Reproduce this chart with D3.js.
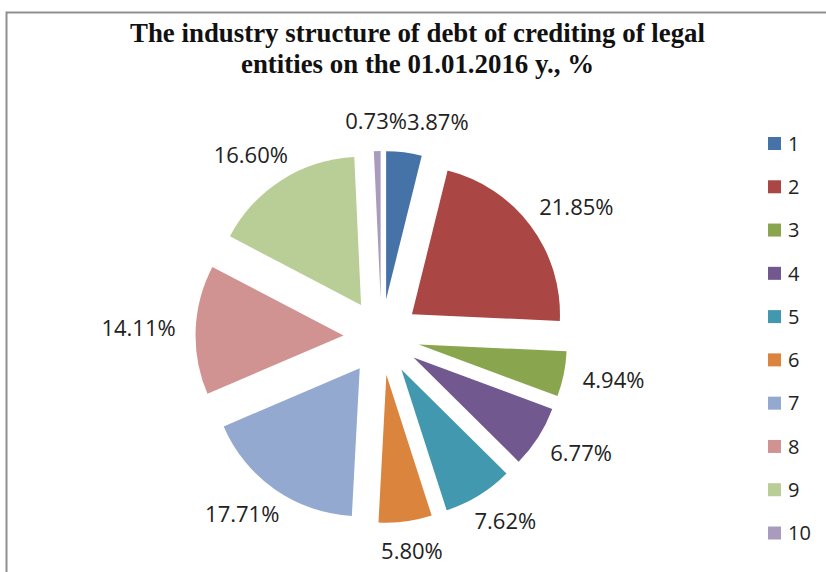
<!DOCTYPE html>
<html>
<head>
<meta charset="utf-8">
<script src="https://cdn.jsdelivr.net/npm/d3@7"></script>
<style>
  html, body { margin: 0; padding: 0; background: #fff; }
  svg { display: block; }
</style>
</head>
<body>
<svg id="chart" width="826" height="572"></svg>
<script>
// Industry shares of legal-entity credit debt, 01.01.2016 (%)
const categories = ["1", "2", "3", "4", "5", "6", "7", "8", "9", "10"];
const shares = [3.87, 21.85, 4.94, 6.77, 7.62, 5.80, 17.71, 14.11, 16.60, 0.73];
const sliceColors = ["#4572A7", "#AA4643", "#89A54E", "#71588F", "#4198AF",
                     "#DB843D", "#93A9CF", "#D19392", "#B9CD96", "#A99BBD"];
const titleLines = ["The industry structure of debt of crediting of legal",
                    "entities on the 01.01.2016 y., %"];

const W = 826, H = 572;
const svg = d3.select("#chart");

// outer frame
svg.append("rect")
  .attr("x", 6.5).attr("y", 12.5)
  .attr("width", W + 20).attr("height", H + 20)
  .attr("fill", "#fff")
  .attr("stroke", "#8f8f8f").attr("stroke-width", 2);

// title
const titleWidths = [575, 353];
svg.append("g").selectAll("text")
  .data(titleLines)
  .join("text")
    .attr("x", 417.5)
    .attr("y", (d, i) => 41.7 + i * 31.6)
    .attr("text-anchor", "middle")
    .attr("font-family", "'Liberation Serif', 'Times New Roman', serif")
    .attr("font-weight", "bold")
    .attr("font-size", 28)
    .attr("fill", "#111")
    .attr("textLength", (d, i) => titleWidths[i])
    .attr("lengthAdjust", "spacingAndGlyphs")
    .text(d => d);

// pie geometry
const cx = 381.5, cy = 337, radius = 148, explode = 38, labelGap = 20;
const pie = d3.pie().sort(null).value(d => d);
const arc = d3.arc().innerRadius(0).outerRadius(radius);
const arcs = pie(shares);
const mid = a => (a.startAngle + a.endAngle) / 2;
const unit = a => [Math.sin(mid(a)), -Math.cos(mid(a))];

const pieG = svg.append("g").attr("transform", `translate(${cx},${cy})`);
pieG.selectAll("path")
  .data(arcs)
  .join("path")
    .attr("transform", d => {
      const [ux, uy] = unit(d);
      return `translate(${ux * explode},${uy * explode})`;
    })
    .attr("d", arc)
    .attr("fill", (d, i) => sliceColors[i]);

// value labels, outside end of each exploded slice
const fmt = v => v.toFixed(2) + "%";
const labelG = svg.append("g");
const labels = labelG.selectAll("text")
  .data(arcs)
  .join("text")
    .attr("font-family", "'Open Sans', 'Noto Sans', sans-serif")
    .attr("font-size", 22)
    .attr("fill", "#222")
    .attr("text-anchor", "middle")
    .attr("dy", "0.35em")
    .text(d => fmt(d.data));

const boxes = [];
labels.each(function(d) {
  const w = this.getComputedTextLength();
  const h = 20;
  const [ux, uy] = unit(d);
  const R = radius + labelGap;
  const x = cx + ux * (explode + R) + ux * w / 2;
  const y = cy + uy * (explode + R) + uy * h / 2;
  boxes.push({ node: this, x, y, w, h });
});

// nudge overlapping labels apart horizontally
for (let pass = 0; pass < 5; pass++) {
  for (let i = 0; i < boxes.length; i++) {
    for (let j = 0; j < boxes.length; j++) {
      if (i === j) continue;
      const a = boxes[i], b = boxes[j];
      if (a.x > b.x) continue;
      const overX = (a.x + a.w / 2) - (b.x - b.w / 2);
      const overY = (a.h + b.h) / 2 - Math.abs(a.y - b.y);
      if (overX > 0 && overY > 0) b.x += overX;
    }
  }
}
boxes.forEach(b => d3.select(b.node).attr("x", b.x).attr("y", b.y));

// legend
const legendY = d3.scalePoint().domain(categories).range([143.5, 533]);
const legend = svg.append("g").selectAll("g")
  .data(categories)
  .join("g")
    .attr("transform", d => `translate(768,${legendY(d)})`);
legend.append("rect")
  .attr("x", 0).attr("y", -6.5)
  .attr("width", 13).attr("height", 13)
  .attr("fill", (d, i) => sliceColors[i]);
legend.append("text")
  .attr("x", 20).attr("dy", "0.36em")
  .attr("font-family", "'Open Sans', 'Noto Sans', sans-serif")
  .attr("font-size", 20)
  .attr("fill", "#222")
  .text(d => d);
</script>
</body>
</html>
